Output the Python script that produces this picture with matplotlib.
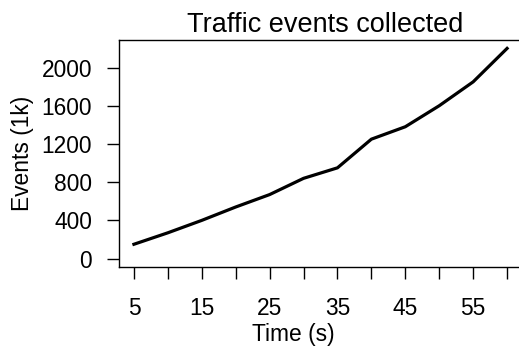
import matplotlib
matplotlib.use('Agg')
import matplotlib.pyplot as plt

# Data
time_s = [5, 10, 15, 20, 25, 30, 35, 40, 45, 50, 55, 60]
events_k = [150, 270, 400, 540, 670, 840, 950, 1250, 1380, 1600, 1850, 2200]

x_ticks = [5, 10, 15, 20, 25, 30, 35, 40, 45, 50, 55, 60]
x_tick_labels = ['5', '', '15', '', '25', '', '35', '', '45', '', '55', '']
y_ticks = [0, 400, 800, 1200, 1600, 2000]

plt.rcParams['font.family'] = ['Liberation Sans', 'DejaVu Sans']

fig = plt.figure(figsize=(5.19, 3.5), dpi=100)
ax = fig.add_axes([119 / 519, 83 / 350, 403 / 519, 227 / 350])

ax.plot(time_s, events_k, color='black', linewidth=2.3)

ax.set_xlim(2.8, 62.2)
ax.set_ylim(-88, 2288)
ax.set_xticks(x_ticks)
ax.set_xticklabels(x_tick_labels)
ax.set_yticks(y_ticks)

ax.tick_params(axis='both', direction='out', length=8.5, width=1.0,
               labelsize=16.4, colors='black')
ax.tick_params(axis='x', pad=13)
ax.tick_params(axis='y', pad=11)
for sp in ax.spines.values():
    sp.set_linewidth(1.0)

ax.set_title('Traffic events collected', fontsize=19.5, pad=6)
ax.title.set_x(0.511)

ax.set_xlabel('Time (s)', fontsize=16.4)
ax.xaxis.set_label_coords(174 / 403, -68 / 227)
ax.xaxis.label.set_va('center')

ax.set_ylabel('Events (1k)', fontsize=16.4)
ax.yaxis.set_label_coords(-96 / 403, 0.5)
ax.yaxis.label.set_va('center')

fig.savefig('out.png', dpi=100)
